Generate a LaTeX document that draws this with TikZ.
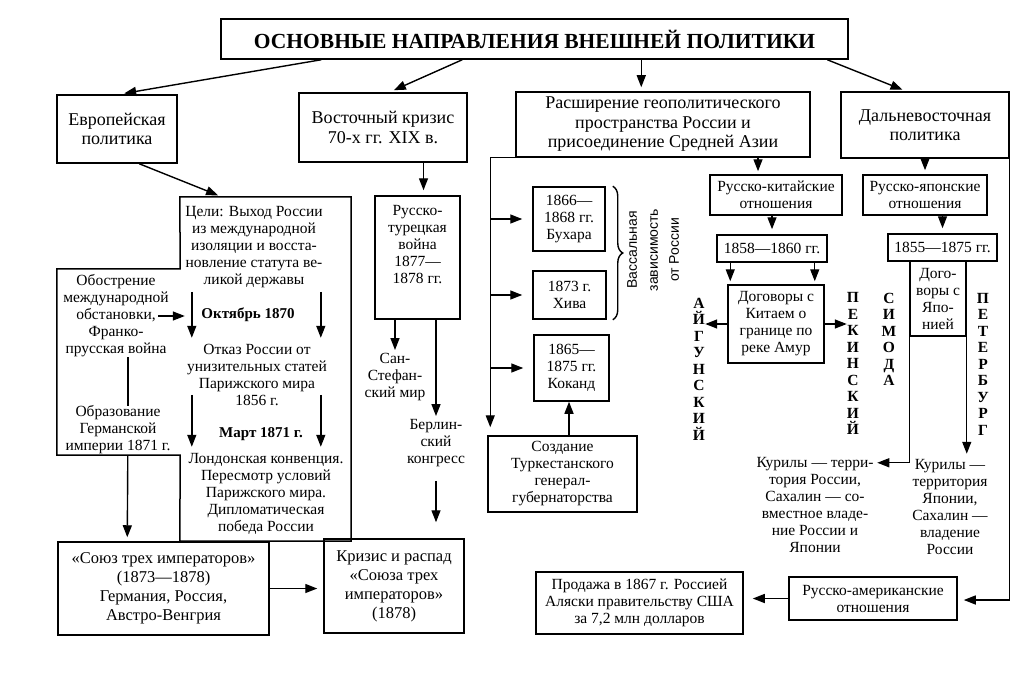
\documentclass[tikz,border=0pt]{standalone}
\usepackage{fontspec}
\setmainfont{Liberation Serif}
\newfontfamily\sansfnt{Liberation Sans}
\usetikzlibrary{arrows.meta,decorations.pathreplacing}
\newcommand\bxfont{\fontsize{15.5}{17}\selectfont}
\newcommand\hdfont{\fontsize{18}{19.5}\selectfont}
\newcommand\bigbxfont{\fontsize{16.5}{19}\selectfont}
\newcommand\bxbold{\bfseries\fontsize{15}{17}\selectfont}
\newcommand\vlfont{\bfseries\fontsize{15.5}{16.5}\selectfont}
\newcommand\ttlfont{\bfseries\fontsize{21.5}{24}\selectfont}
\newcommand\vasfont{\sansfnt\fontsize{14}{21}\selectfont}
\begin{document}
\begin{tikzpicture}[x=1pt,y=-1pt,
  bx/.style={draw, line width=1.5pt, align=center, inner sep=0pt, font=\bxfont},
  tx/.style={align=center, inner sep=0pt, font=\bxfont},
  tb/.style={align=center, inner sep=0pt, font=\bxbold},
  vl/.style={align=center, inner sep=0pt, font=\vlfont},
  arr/.style={line width=1.4pt, -{Triangle[length=12pt,width=9pt]}},
  ln/.style={line width=1.4pt}]
\fill[white] (0,0) rectangle (1024,682);
\useasboundingbox (0,0) rectangle (1024,682);

% top level
\node[bx, minimum width=627pt, minimum height=40pt, font=\ttlfont] (title) at (534.5,39) {ОСНОВНЫЕ НАПРАВЛЕНИЯ ВНЕШНЕЙ ПОЛИТИКИ};
\node[bx, minimum width=120pt, minimum height=68pt, font=\hdfont] (evr) at (117,129) {Европейская\\политика};
\node[bx, minimum width=168pt, minimum height=69pt, font=\hdfont] (vost) at (383,127.5) {Восточный кризис\\70-х гг. XIX в.};
\node[bx, minimum width=294pt, minimum height=65pt, font=\hdfont] (rassh) at (663,124.5) {Расширение геополитического\\пространства России и\\присоединение Средней Азии};
\node[bx, minimum width=168pt, minimum height=66pt, font=\hdfont] (dalne) at (925,125) {Дальневосточная\\политика};

% European policy
\node[minimum width=171pt, minimum height=344pt, inner sep=0pt] (celibox) at (265.5,369) {};
\node[minimum width=123pt, minimum height=186pt, inner sep=0pt] (obbox) at (118.5,362) {};
\draw[line width=1.5pt] (celibox.north west) -- (celibox.north east) -- (celibox.south east) -- (celibox.south west) -- (obbox.south east) -- (obbox.south west) -- (obbox.north west) -- (obbox.north east) -- cycle;
\node[tx] (celit) at (254,247) {Цели: Выход России\\из международной\\изоляции и восста-\\новление статута ве-\\ликой державы};
\node[tb] (oct) at (248,315) {Октябрь 1870};
\node[tx] (otkaz) at (257,375) {Отказ России от\\унизительных статей\\Парижского мира\\1856 г.};
\node[tb] (mart) at (261,434) {Март 1871 г.};
\node[tx] (london) at (266,494) {Лондонская конвенция.\\Пересмотр условий\\Парижского мира.\\Дипломатическая\\победа России};
\node[tx] (obt) at (116,316) {Обострение\\международной\\обстановки,\\Франко-\\прусская война};
\node[tx] (obraz) at (118,430) {Образование\\Германской\\империи 1871 г.};
\node[bx, minimum width=211pt, minimum height=93pt, font=\bigbxfont] (soyuz) at (163.5,588.5) {«Союз трех императоров»\\(1873—1878)\\Германия, Россия,\\Австро-Венгрия};
\node[bx, minimum width=140pt, minimum height=94pt, font=\bigbxfont] (krizis) at (394,586) {Кризис и распад\\«Союза трех\\императоров»\\(1878)};

% Eastern crisis
\node[bx, minimum width=85pt, minimum height=123pt] (rustur) at (417.5,257.5) {};
\node[tx] (rusturt) at (417.5,245) {Русско-\\турецкая\\война\\1877—\\1878 гг.};
\node[tx] (sanstef) at (395,377) {Сан-\\Стефан-\\ский мир};
\node[tx] (berlin) at (436,443) {Берлин-\\ский\\конгресс};

% Central Asia
\node[bx, minimum width=72pt, minimum height=64pt] (buhara) at (569,219) {1866—\\1868 гг.\\Бухара};
\node[bx, minimum width=73pt, minimum height=48pt] (hiva) at (569.5,295) {1873 г.\\Хива};
\node[bx, minimum width=75pt, minimum height=66pt] (kokand) at (571.5,368) {1865—\\1875 гг.\\Коканд};
\node[bx, minimum width=149pt, minimum height=76pt] (turk) at (562.5,474) {Создание\\Туркестанского\\генерал-\\губернаторства};
\node[rotate=90, align=center, inner sep=0pt, font=\vasfont] (vas) at (653,250) {Вассальная\\зависимость\\от России};

% Far East
\node[bx, minimum width=132pt, minimum height=40pt] (rk) at (776,195) {Русско-китайские\\отношения};
\node[bx, minimum width=110pt, minimum height=27pt] (y1858) at (772,248.5) {1858—1860 гг.};
\node[bx, minimum width=96pt, minimum height=78pt] (dogk) at (776,324) {Договоры с\\Китаем о\\границе по\\реке Амур};
\node[bx, minimum width=124pt, minimum height=40pt] (rj) at (925,195) {Русско-японские\\отношения};
\node[bx, minimum width=109pt, minimum height=27pt] (y1855) at (942.5,247.5) {1855—1875 гг.};
\node[bx, minimum width=56pt, minimum height=75pt] (dogj) at (938,298.5) {Дого-\\воры с\\Япо-\\нией};
\node[vl] (aigun) at (699,369) {А\\Й\\Г\\У\\Н\\С\\К\\И\\Й};
\node[vl] (pekin) at (853,363.5) {П\\Е\\К\\И\\Н\\С\\К\\И\\Й};
\node[vl] (simoda) at (889,339.5) {С\\И\\М\\О\\Д\\А};
\node[vl] (peter) at (983,364) {П\\Е\\Т\\Е\\Р\\Б\\У\\Р\\Г};
\node[tx] (kur1) at (815,505) {Курилы — терри-\\тория России,\\Сахалин — со-\\вместное владе-\\ние России и\\Японии};
\node[tx] (kur2) at (950,507) {Курилы —\\территория\\Японии,\\Сахалин —\\владение\\России};
\node[bx, minimum width=168pt, minimum height=43pt] (ramer) at (873,598.5) {Русско-американские\\отношения};
\node[bx, minimum width=207pt, minimum height=62pt] (prod) at (639.5,603) {Продажа в 1867 г. Россией\\Аляски правительству США\\за 7,2 млн долларов};

% connectors from title
\draw[arr, shorten >=5pt] ([xshift=101pt]title.south west) -- ([xshift=63pt]evr.north west);
\draw[arr, shorten >=5pt] ([xshift=242pt]title.south west) -- ([xshift=91pt]vost.north west);
\draw[arr, shorten >=4pt] ([xshift=421pt]title.south west) -- ([xshift=126pt]rassh.north west);
\draw[arr, shorten >=4pt] ([xshift=607pt]title.south west) -- ([xshift=66pt]dalne.north west);

% European connectors
\draw[arr, shorten >=4pt] ([xshift=83pt]evr.south west) -- ([xshift=42pt]celibox.north west);
\path (obt.center) ++(42,0) coordinate (oc);
\path (celibox.west |- obt.center) ++(5,0) coordinate (ce);
\draw[arr] (oc) -- (ce);
\path (celibox.north west) ++(12,95) coordinate (a1s) ++(0,46) coordinate (a1e);
\path (celibox.north west) ++(141,95) coordinate (a2s) ++(0,46) coordinate (a2e);
\path (celibox.north west) ++(12,198) coordinate (a3s) ++(0,52) coordinate (a3e);
\path (celibox.north west) ++(141,198) coordinate (a4s) ++(0,52) coordinate (a4e);
\draw[arr] (a1s) -- (a1e);
\draw[arr] (a2s) -- (a2e);
\draw[arr] (a3s) -- (a3e);
\draw[arr] (a4s) -- (a4e);
\draw[ln] ([xshift=12pt]obt.south) -- ([xshift=10pt]obraz.north);
\draw[arr, shorten >=4pt] ([xshift=71pt]obbox.south west) -- ([xshift=70pt]soyuz.north west);
\draw[arr, shorten >=6pt] (soyuz.east) -- (soyuz.east -| krizis.west);

% Eastern crisis connectors
\path ([xshift=6pt]rustur.north) coordinate (vr);
\draw[arr, shorten >=5pt] (vr |- vost.south) -- (vr);
\draw[arr, shorten >=3pt] (sanstef.north |- rustur.south) -- (sanstef.north);
\draw[arr, shorten >=3pt] (berlin.north |- rustur.south) -- (berlin.north);
\draw[arr, shorten <=14pt, shorten >=16pt] (berlin.south) -- (berlin.south |- krizis.north);

% Central Asia connectors
\path (turk.north west) ++(3,-8) coordinate (rv);
\draw[arr] (rassh.south west) -| (rv);
\draw[arr, shorten >=10pt] (rv |- buhara.west) -- (buhara.west);
\draw[arr, shorten >=10pt] (rv |- hiva.west) -- (hiva.west);
\draw[arr, shorten >=10pt] (rv |- kokand.west) -- (kokand.west);
\path ([xshift=6.5pt]turk.north) coordinate (tk);
\draw[arr] (tk) -- (tk |- kokand.south);
\draw[ln, decorate, decoration={brace, amplitude=10pt}] ([xshift=7pt]buhara.north east) -- ([xshift=6pt]hiva.south east);

% Far East connectors
\path ([xshift=-18pt]rk.north) coordinate (rkin);
\draw[arr, shorten >=3pt] (rkin |- rassh.south) -- (rkin);
\draw[arr, shorten >=5pt] (y1858.north |- rk.south) -- (y1858.north);
\path ([xshift=14pt]y1858.south west) coordinate (d1);
\path ([xshift=-13pt]y1858.south east) coordinate (d2);
\draw[arr, shorten >=3pt] (d1) -- (d1 |- dogk.north);
\draw[arr, shorten >=3pt] (d2) -- (d2 |- dogk.north);
\draw[arr] (dogk.west) -- (aigun.east |- dogk.west);
\draw[arr] (dogk.east) -- (pekin.west |- dogk.east);
\draw[arr, shorten >=4pt] (rj.north |- dalne.south) -- (rj.north);
\draw[arr, shorten >=5pt] (y1855.north |- rj.south) -- (y1855.north);
\path (dogj.south west) ++(-32,126) coordinate (k1);
\draw[arr] (dogj.south west) |- (k1);
\path (dogj.south east) ++(0,117) coordinate (k2);
\draw[arr] (dogj.south east) -- (k2);
\path (ramer.east) ++(6,1.5) coordinate (ra);
\draw[arr] (dalne.south east) |- (ra);
\draw[arr, shorten >=9pt] (ramer.west) -- (prod.east |- ramer.west);
\end{tikzpicture}
\end{document}
